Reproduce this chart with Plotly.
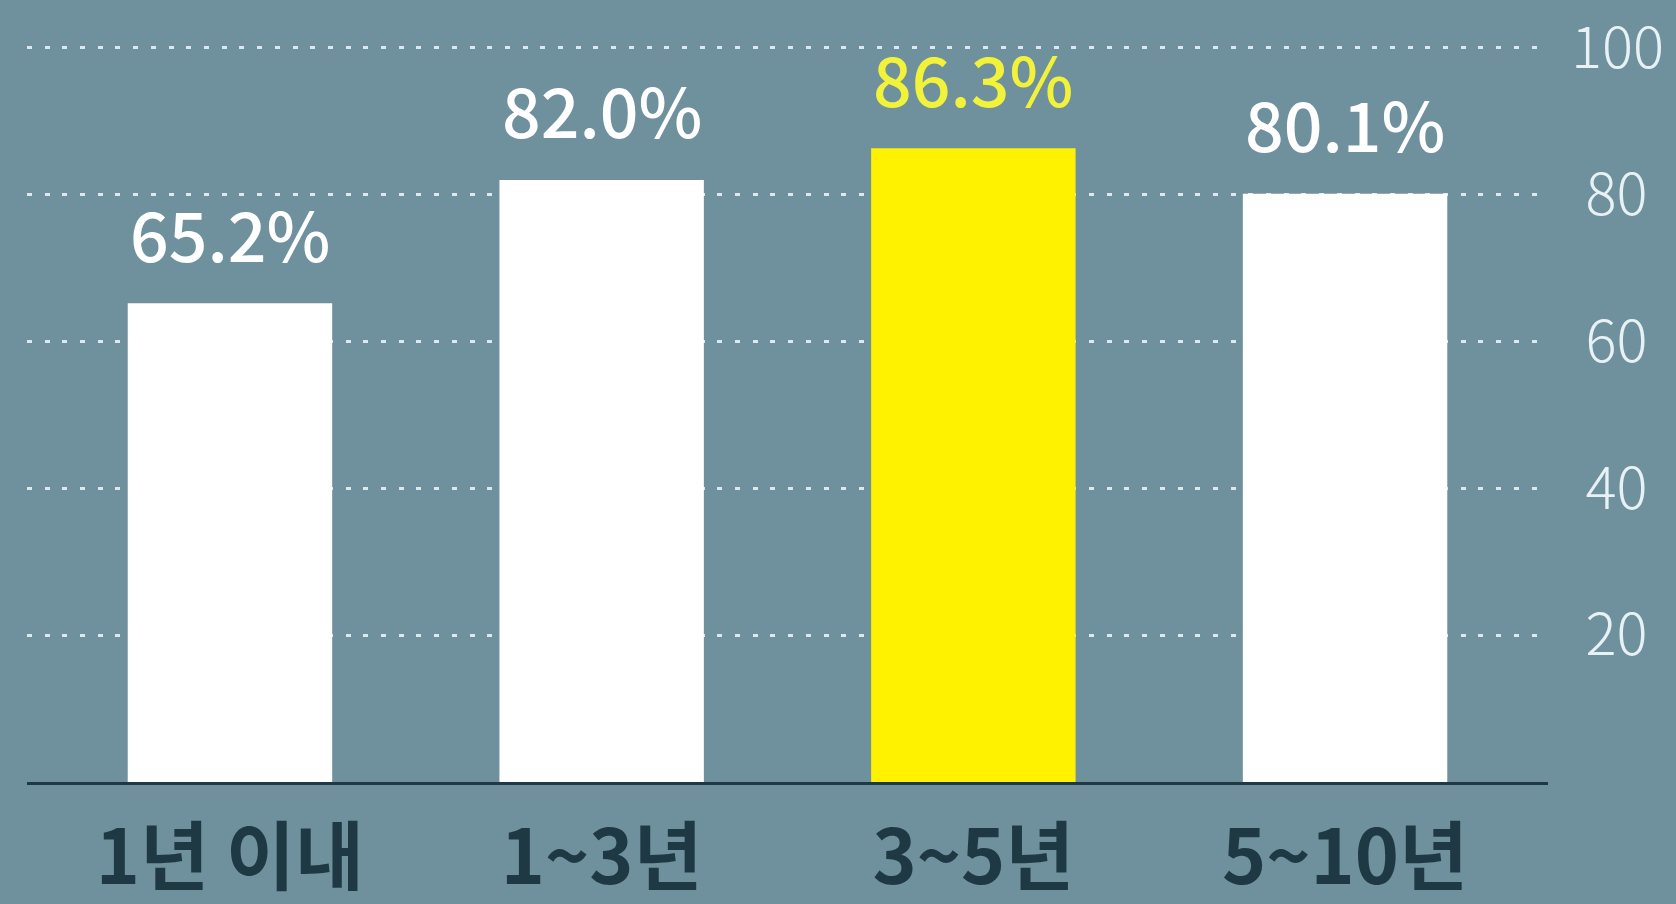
import plotly.graph_objects as go

categories = ["1년 이내", "1~3년", "3~5년", "5~10년"]
values = [65.2, 82.0, 86.3, 80.1]
value_labels = ["65.2%", "82.0%", "86.3%", "80.1%"]
highlight = [False, False, True, False]
y_tickvals = [20, 40, 60, 80, 100]
y_ticktext = ["20", "40", "60", "80", "100"]

BG = "#6f919e"
WHITE = "#ffffff"
YELLOW = "#fff200"
YELLOW_TEXT = "#f2f23a"
DARK = "#1f3944"
FONT = "Noto Sans CJK KR"

bar_colors = [YELLOW if h else WHITE for h in highlight]

fig = go.Figure()
fig.add_trace(go.Bar(
    x=categories,
    y=values,
    marker=dict(color=bar_colors, line=dict(width=0)),
    hoverinfo="skip",
))

for cat, v, lab, h in zip(categories, values, value_labels, highlight):
    fig.add_annotation(
        x=cat, y=v, xref="x", yref="y",
        text=lab, showarrow=False,
        yanchor="middle", yshift=71,
        font=dict(family=FONT, size=68, color=YELLOW_TEXT if h else WHITE, weight=500),
    )

# pad shorter tick labels so they sit centred under the wider "100"
padded = [("\u2005" + t) if len(t) < 3 else t for t in y_ticktext]

fig.update_layout(
    width=1676, height=904,
    paper_bgcolor=BG, plot_bgcolor=BG,
    margin=dict(l=27, r=128, t=11, b=122, autoexpand=False),
    bargap=0.45,
    showlegend=False,
    xaxis=dict(
        range=[-0.546, 3.546],
        automargin=False,
        showgrid=False, zeroline=False,
        showline=True, linecolor=DARK, linewidth=3,
        ticks="", ticklabelstandoff=9,
        tickfont=dict(family=FONT, size=75, color=DARK, weight=700),
        fixedrange=True,
    ),
    yaxis=dict(
        range=[0, 105], side="right",
        automargin=False,
        tickvals=y_tickvals, ticktext=padded,
        showgrid=True, gridcolor="#dbe8ee", gridwidth=3, griddash="5px,12.7px",
        zeroline=False, showline=False, ticks="",
        ticklabelstandoff=22,
        tickfont=dict(family=FONT, size=58, color="#e8f1f4", weight=300),
        fixedrange=True,
    ),
)

fig.write_html(
    "out.html",
    config={"displayModeBar": False},
    post_script="document.body.style.margin='0';document.body.style.overflow='hidden';",
)
